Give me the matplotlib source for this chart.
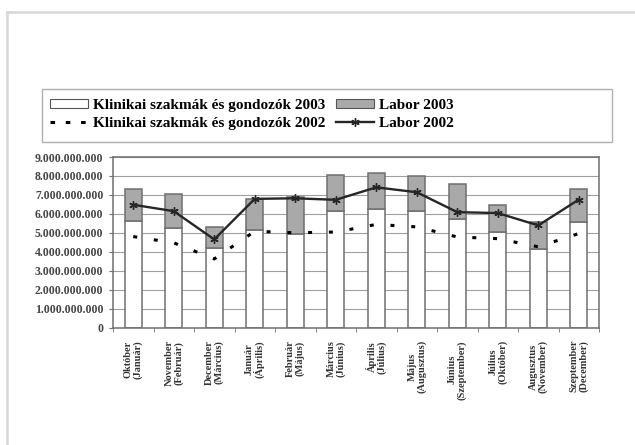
import matplotlib

matplotlib.use("Agg")
import matplotlib.pyplot as plt
import numpy as np
from matplotlib.lines import Line2D
from matplotlib.patches import Patch, Rectangle
from matplotlib.ticker import FuncFormatter, FixedLocator

months = ["Október", "November", "December", "Január", "Február", "Március",
          "Április", "Május", "Június", "Július", "Augusztus", "Szeptember"]
months_shifted = ["(Január)", "(Február)", "(Március)", "(Április)", "(Május)", "(Június)",
                  "(Július)", "(Augusztus)", "(Szeptember)", "(Október)", "(November)", "(December)"]

# values in billions
klinikai_2003 = [5.60, 5.25, 4.18, 5.13, 4.96, 6.13, 6.27, 6.14, 5.74, 5.04, 4.12, 5.57]
labor_2003_top = [7.33, 7.05, 5.33, 6.79, 6.88, 8.05, 8.13, 8.01, 7.57, 6.44, 5.57, 7.31]
klinikai_2002 = [4.80, 4.47, 3.62, 5.08, 5.00, 5.04, 5.44, 5.31, 4.78, 4.69, 4.26, 4.96]
labor_2002 = [6.48, 6.14, 4.65, 6.79, 6.82, 6.74, 7.40, 7.14, 6.09, 6.04, 5.39, 6.75]

BIL = 1e9
SERIF = ["Liberation Serif", "DejaVu Serif"]
EDGE = "#6f6f6f"
GRAY_FILL = "#a9a9a9"

fig = plt.figure(figsize=(6.35, 4.45), dpi=100, facecolor="white")
ax = fig.add_axes([113 / 635, 1 - 327.5 / 445, 486 / 635, 170.5 / 445])

x = np.arange(len(months))
k03 = np.array(klinikai_2003) * BIL
l03 = (np.array(labor_2003_top) - np.array(klinikai_2003)) * BIL

ax.bar(x, k03, width=0.42, color="white", edgecolor=EDGE, linewidth=1.1, zorder=2)
ax.bar(x, l03, bottom=k03, width=0.42, color=GRAY_FILL, edgecolor=EDGE, linewidth=1.1, zorder=2)
ax.plot(x, np.array(klinikai_2002) * BIL, color="black", linewidth=2.2,
        linestyle=(0, (1.3, 5.5)), zorder=3)
ax.plot(x, np.array(labor_2002) * BIL, color="#262626", linewidth=1.7,
        marker=(6, 2, 0), markersize=6, markeredgewidth=1.0, zorder=4)

ax.set_xlim(-0.5, len(months) - 0.5)
ax.set_ylim(0, 9 * BIL)
ax.yaxis.set_major_locator(FixedLocator(np.arange(0, 10) * BIL))
ax.yaxis.set_major_formatter(FuncFormatter(lambda v, p: f"{v:,.0f}".replace(",", ".")))
ax.grid(axis="y", color="#a0a0a0", linewidth=0.8, zorder=0)
ax.set_axisbelow(True)

ax.set_xticks(x)
ax.set_xticklabels([f"{a}\n{b}" for a, b in zip(months, months_shifted)],
                   rotation=90, fontsize=7.5, fontweight="bold", family=SERIF,
                   va="top", ha="center", linespacing=1.0, color="#333333")
ax.set_xticks(np.arange(-0.5, len(months)), minor=True)
ax.tick_params(axis="x", which="major", length=0, pad=9)
ax.tick_params(axis="x", which="minor", length=3, color=EDGE)
ax.tick_params(axis="y", length=3, color=EDGE, pad=4)
for lbl in ax.get_yticklabels():
    lbl.set_family(SERIF)
    lbl.set_fontweight("bold")
    lbl.set_fontsize(8.5)
    lbl.set_color("#444444")
for side in ax.spines.values():
    side.set_color(EDGE)
    side.set_linewidth(1.1)

handles = [
    Patch(facecolor="white", edgecolor="#555555", linewidth=0.8),
    Line2D([], [], color="black", linewidth=2.2, linestyle=(0, (1.5, 3.5))),
    Patch(facecolor=GRAY_FILL, edgecolor="#555555", linewidth=0.8),
    Line2D([], [], color="#262626", linewidth=1.7, marker=(6, 2, 0), markersize=6),
]
labels = ["Klinikai szakmák és gondozók 2003", "Klinikai szakmák és gondozók 2002",
          "Labor 2003", "Labor 2002"]
fig.legend(handles, labels, ncol=2, frameon=False, loc="upper left",
           bbox_to_anchor=(44 / 635, 1 - 93 / 445),
           prop={"family": SERIF, "weight": "bold", "size": 11},
           handlelength=2.5, handleheight=0.55, handletextpad=0.3,
           columnspacing=0.7, labelspacing=0.35, borderaxespad=0)

fig.patches.append(Rectangle((42 / 635, 1 - 142 / 445), 570 / 635, 53 / 445,
                             transform=fig.transFigure, fill=False,
                             edgecolor="#b0b0b0", linewidth=1.0))
fig.lines.append(Line2D([7 / 635, 7 / 635], [0, 1 - 12 / 445], transform=fig.transFigure,
                        color="#d6d6d6", linewidth=1.8))
fig.lines.append(Line2D([7 / 635, 1], [1 - 12 / 445, 1 - 12 / 445], transform=fig.transFigure,
                        color="#d6d6d6", linewidth=1.8))

fig.savefig("out.png", dpi=100, facecolor="white")
